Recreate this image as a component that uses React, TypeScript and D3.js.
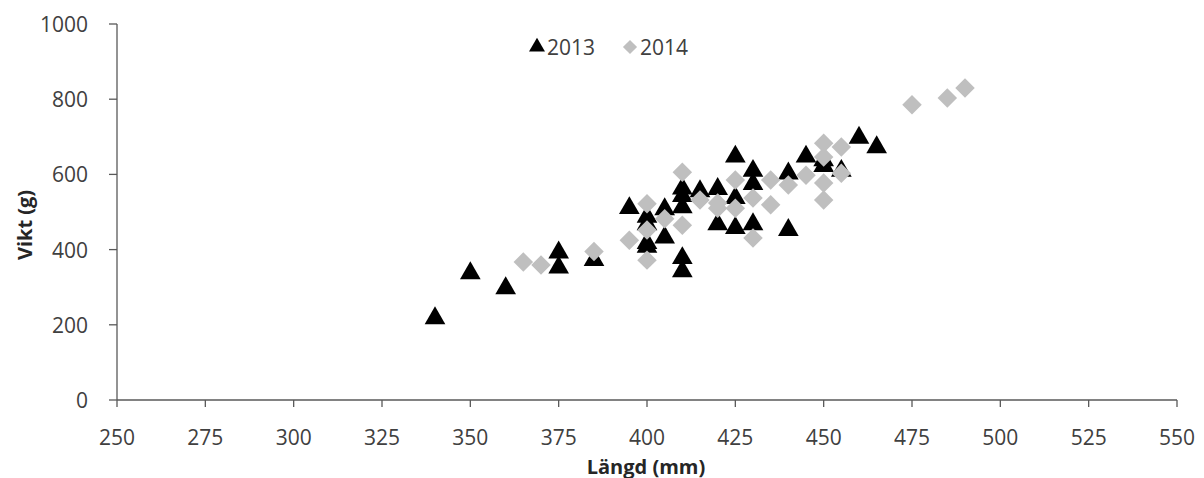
import React from 'react'
import * as d3 from 'd3'

// längd (mm), vikt (g)
const fish2013: [number, number][] = [
  [340, 220], [350, 340], [360, 300], [375, 395], [375, 355], [385, 375],
  [395, 513], [400, 490], [400, 470], [400, 420], [400, 410],
  [405, 510], [405, 435], [410, 565], [410, 545], [410, 515], [410, 380], [410, 345],
  [415, 558], [420, 564], [420, 470], [425, 650], [425, 540], [425, 460],
  [430, 612], [430, 577], [430, 470], [440, 605], [440, 455], [445, 650],
  [450, 640], [450, 625], [455, 612], [460, 700], [465, 675],
]

const fish2014: [number, number][] = [
  [365, 367], [370, 359], [385, 395], [395, 425],
  [400, 522], [400, 452], [400, 372], [405, 482], [410, 606], [410, 465],
  [415, 532], [420, 524], [420, 510], [425, 585], [425, 510],
  [430, 537], [430, 431], [435, 585], [435, 519], [440, 572], [445, 598],
  [450, 683], [450, 646], [450, 577], [450, 532], [455, 673], [455, 603],
  [475, 785], [485, 803], [490, 830],
]

const xTicks = d3.range(250, 551, 25)
const yTicks = d3.range(0, 1001, 200)

const W = 1204
const H = 478
const margin = {top: 24, right: 27, bottom: 78, left: 117}

const font = '"Open Sans", sans-serif'
const axisColor = '#595959'
const textColor = '#404040'

export default function App() {
  const x = d3.scaleLinear().domain([250, 550]).range([margin.left, W - margin.right])
  const y = d3.scaleLinear().domain([0, 1000]).range([H - margin.bottom, margin.top])

  const tri = d3.symbol().type(d3.symbolTriangle).size(185)()
  const dia = d3.symbol().type(d3.symbolSquare).size(190)()
  const triSmall = d3.symbol().type(d3.symbolTriangle).size(110)()
  const diaSmall = d3.symbol().type(d3.symbolSquare).size(100)()

  const x0 = x(250)
  const y0 = y(0)

  return (
    <svg width={W} height={H} style={{position: 'absolute', left: 0, top: 0}}>
      <rect width={W} height={H} fill="#fff" />

      {/* axes */}
      <line x1={x0} x2={x(550)} y1={y0} y2={y0} stroke={axisColor} strokeWidth={1.3} />
      <line x1={x0} x2={x0} y1={y(1000)} y2={y0} stroke={axisColor} strokeWidth={1.3} />

      {xTicks.map(t => (
        <g key={'x' + t}>
          <line x1={x(t)} x2={x(t)} y1={y0} y2={y0 + 7} stroke={axisColor} strokeWidth={1.3} />
          <text x={x(t)} y={y0 + 37} textAnchor="middle" dominantBaseline="central" fontFamily={font}
            fontSize={21} fill={textColor}>{t}</text>
        </g>
      ))}

      {yTicks.map(t => (
        <g key={'y' + t}>
          <line x1={x0 - 8} x2={x0} y1={y(t)} y2={y(t)} stroke={axisColor} strokeWidth={1.3} />
          <text x={x0 - 29} y={y(t)} textAnchor="end" dominantBaseline="central"
            fontFamily={font} fontSize={21} fill={textColor}>{t}</text>
        </g>
      ))}

      {/* points */}
      {fish2013.map((d, i) => (
        <path key={'a' + i} d={tri!} transform={`translate(${x(d[0])},${y(d[1]) + 1})`} fill="#000" />
      ))}
      {fish2014.map((d, i) => (
        <path key={'b' + i} d={dia!} transform={`translate(${x(d[0])},${y(d[1])}) rotate(45)`} fill="#bfbfbf" />
      ))}

      {/* legend */}
      <path d={triSmall!} transform="translate(537,47)" fill="#000" />
      <text x={547} y={47} dominantBaseline="central" fontFamily={font} fontSize={21} fill={textColor}>2013</text>
      <path d={diaSmall!} transform="translate(630,47) rotate(45)" fill="#bfbfbf" />
      <text x={640} y={47} dominantBaseline="central" fontFamily={font} fontSize={21} fill={textColor}>2014</text>

      {/* titles */}
      <text x={646} y={466} textAnchor="middle" dominantBaseline="central" fontFamily={font}
        fontSize={20} fontWeight="bold" fill="#262626">Längd (mm)</text>
      <text transform={`translate(24,${(y(1000) + y0) / 2 + 13}) rotate(-90)`} textAnchor="middle"
        dominantBaseline="central" fontFamily={font} fontSize={20} fontWeight="bold" fill="#262626">Vikt (g)</text>
    </svg>
  )
}
